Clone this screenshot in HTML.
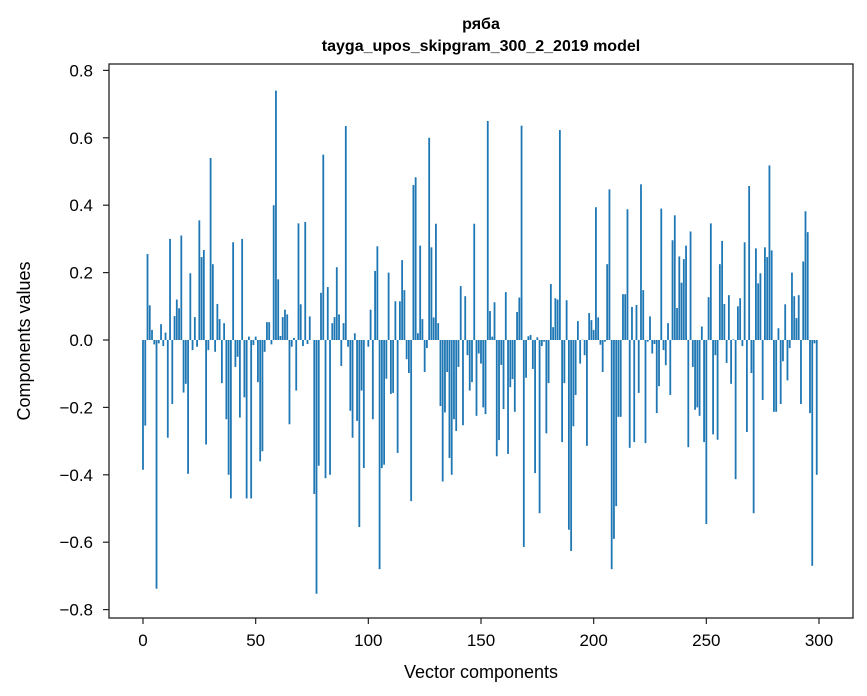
<!DOCTYPE html>
<html><head><meta charset="utf-8"><style>
html,body{margin:0;padding:0;background:#fff;}
svg{display:block;font-family:"Liberation Sans","DejaVu Sans",sans-serif;}
</style></head><body>
<svg id="chart" width="867" height="696" viewBox="0 0 867 696" xmlns="http://www.w3.org/2000/svg">
<rect x="0" y="0" width="867" height="696" fill="#fff"/>
<text x="481" y="29" text-anchor="middle" font-size="16" font-weight="bold" fill="#000">ряба</text>
<text x="481" y="51" text-anchor="middle" font-size="16" font-weight="bold" fill="#000">tayga_upos_skipgram_300_2_2019 model</text>
<g id="bars"></g>
<g id="xticks"></g>
<g id="yticks"></g>
<rect x="109" y="64" width="744" height="554" fill="none" stroke="#222" stroke-width="1.3"/>
<text x="481" y="678" text-anchor="middle" font-size="18" fill="#000">Vector components</text>
<text transform="translate(30,341) rotate(-90)" text-anchor="middle" font-size="18" fill="#000">Components values</text>
</svg>
<script>
const xTickValues = [0, 50, 100, 150, 200, 250, 300];
const yTickValues = [-0.8, -0.6, -0.4, -0.2, 0.0, 0.2, 0.4, 0.6, 0.8];
const yTickLabels = ["\u22120.8", "\u22120.6", "\u22120.4", "\u22120.2", "0.0", "0.2", "0.4", "0.6", "0.8"];
const componentValues = [
-0.385,-0.254,0.255,0.103,0.03,-0.013,-0.738,-0.01,0.047,-0.018,
0.022,-0.29,0.30,-0.19,0.071,0.12,0.094,0.31,-0.156,-0.13,
-0.397,0.198,-0.03,0.068,-0.02,0.355,0.246,0.267,-0.31,-0.03,
0.54,0.225,-0.035,0.107,0.062,-0.128,0.05,-0.235,-0.40,-0.47,
0.29,-0.08,-0.05,-0.23,0.30,-0.17,-0.47,0.01,-0.47,-0.015,
0.01,-0.125,-0.36,-0.33,-0.035,0.053,0.053,-0.013,0.40,0.74,
0.18,0.012,0.068,0.09,0.076,-0.25,-0.02,0.006,-0.15,0.346,
0.106,-0.018,0.35,-0.012,0.07,0.0,-0.457,-0.753,-0.373,0.14,
0.55,-0.41,0.157,-0.40,0.05,0.068,0.216,0.076,-0.077,0.05,
0.635,-0.02,-0.21,-0.29,0.02,-0.24,-0.555,-0.15,-0.38,0.0,
-0.02,0.09,-0.235,0.205,0.278,-0.68,-0.38,-0.37,-0.115,0.2,
-0.16,-0.157,0.115,-0.335,0.115,0.237,0.148,-0.057,-0.098,-0.478,
0.46,0.483,0.02,0.28,0.062,-0.095,-0.024,0.6,0.275,0.067,
0.345,0.05,-0.196,-0.42,-0.215,-0.095,-0.35,-0.40,-0.235,-0.27,
-0.08,0.16,-0.253,0.13,-0.045,-0.15,-0.125,0.345,-0.225,-0.04,
-0.07,-0.2,-0.22,0.65,0.086,0.01,0.112,-0.345,-0.297,-0.074,
-0.205,0.142,-0.338,-0.14,-0.116,-0.213,0.083,0.126,0.636,-0.614,
-0.112,0.011,0.015,-0.086,-0.395,0.008,-0.514,-0.018,-0.005,-0.277,
-0.128,0.166,0.038,0.124,0.12,0.623,-0.303,-0.128,0.118,-0.563,
-0.626,-0.256,-0.163,0.056,-0.07,0.001,-0.045,-0.314,0.08,0.059,
0.03,0.394,0.067,-0.014,-0.095,-0.005,0.225,0.447,-0.68,-0.59,
-0.493,-0.228,-0.228,0.136,0.136,0.388,-0.32,0.098,-0.303,0.104,
-0.157,0.462,0.148,-0.306,-0.005,0.07,-0.04,-0.012,-0.217,-0.137,
0.39,-0.03,-0.075,0.05,-0.163,0.296,0.37,0.095,0.248,0.17,
0.24,0.28,-0.318,0.322,-0.08,-0.207,-0.2,-0.225,0.04,-0.303,
-0.546,0.127,0.346,-0.28,-0.045,-0.296,0.225,0.294,0.107,-0.068,
0.133,-0.13,0.002,-0.413,0.1,0.124,-0.018,0.29,-0.273,0.457,
-0.098,-0.514,0.272,0.168,0.198,-0.178,0.275,0.246,0.518,0.266,
-0.213,-0.213,0.035,-0.19,-0.063,0.106,-0.12,-0.024,0.2,0.13,
0.065,0.133,-0.19,0.233,0.382,0.32,-0.217,-0.67,-0.01,-0.4
];

const NS = "http://www.w3.org/2000/svg";
const X0 = 143, XPU = (819 - 143) / 300;
const Y0 = 340, YPU = 337;
function xScale(v){ return X0 + v * XPU; }
function yScale(v){ return Y0 - v * YPU; }

const barsG = document.getElementById('bars');
componentValues.forEach(function(v, i){
  const r = document.createElementNS(NS, 'rect');
  const x = xScale(i - 0.4), w = 0.8 * XPU;
  const y1 = yScale(Math.max(v, 0)), y2 = yScale(Math.min(v, 0));
  r.setAttribute('x', x.toFixed(2));
  r.setAttribute('y', y1.toFixed(2));
  r.setAttribute('width', w.toFixed(2));
  r.setAttribute('height', Math.max(y2 - y1, 0.01).toFixed(2));
  r.setAttribute('fill', '#1f77b4');
  
  
  barsG.appendChild(r);
});

const xg = document.getElementById('xticks');
xTickValues.forEach(function(v){
  const x = xScale(v);
  const l = document.createElementNS(NS, 'line');
  l.setAttribute('x1', x); l.setAttribute('x2', x);
  l.setAttribute('y1', 618); l.setAttribute('y2', 624);
  l.setAttribute('stroke', '#222'); l.setAttribute('stroke-width', '1.2');
  
  
  xg.appendChild(l);
  const t = document.createElementNS(NS, 'text');
  t.setAttribute('x', x); t.setAttribute('y', 646);
  t.setAttribute('text-anchor', 'middle'); t.setAttribute('font-size', '17');
  t.textContent = String(v);
  
  
  xg.appendChild(t);
});

const yg = document.getElementById('yticks');
yTickValues.forEach(function(v, i){
  const y = yScale(v);
  const l = document.createElementNS(NS, 'line');
  l.setAttribute('x1', 103); l.setAttribute('x2', 109);
  l.setAttribute('y1', y); l.setAttribute('y2', y);
  l.setAttribute('stroke', '#222'); l.setAttribute('stroke-width', '1.2');
  
  
  yg.appendChild(l);
  const t = document.createElementNS(NS, 'text');
  t.setAttribute('x', 93); t.setAttribute('y', y + 6);
  t.setAttribute('text-anchor', 'end'); t.setAttribute('font-size', '17');
  t.textContent = yTickLabels[i];
  
  
  yg.appendChild(t);
});
</script>
</body></html>
